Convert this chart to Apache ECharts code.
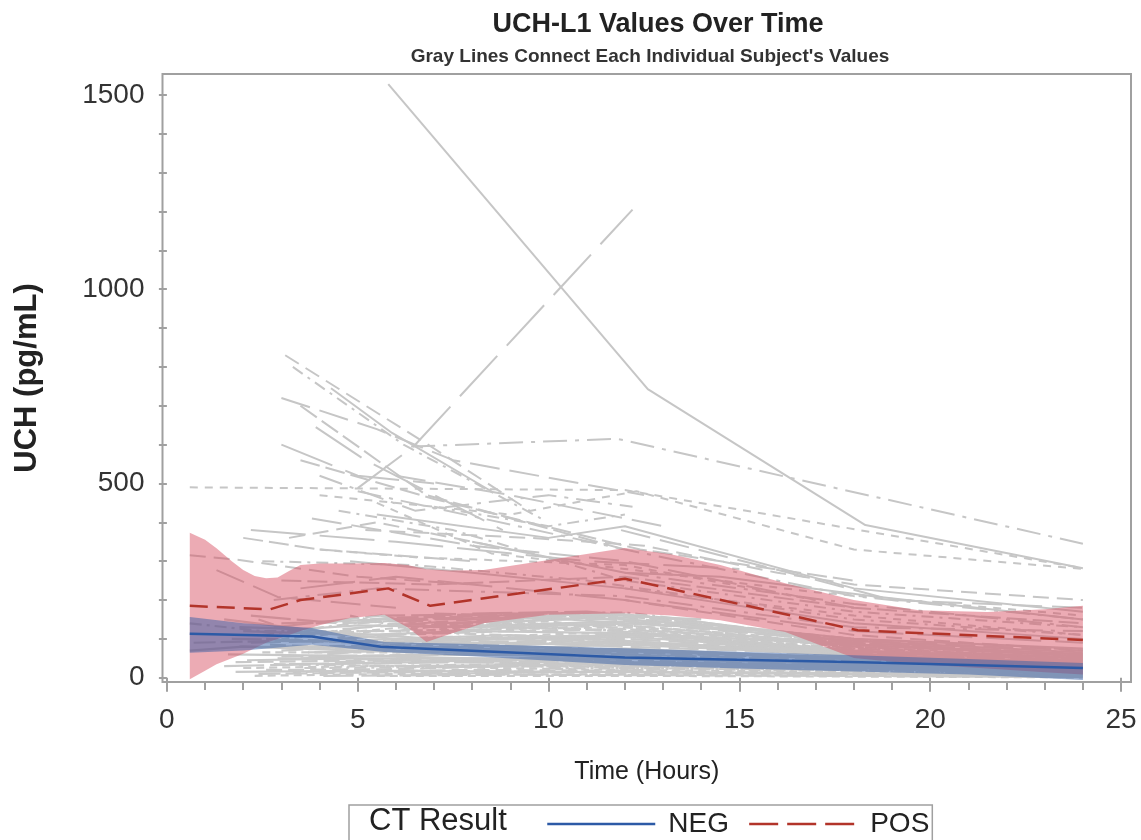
<!DOCTYPE html>
<html><head><meta charset="utf-8">
<script src="https://cdn.jsdelivr.net/npm/echarts@6/dist/echarts.min.js"></script>
<style>html,body{margin:0;padding:0;background:#fff}#c{width:1141px;height:840px}</style>
</head><body><div id="c"></div>
<script>
// ---- tick labels ----
const xTickLabels = [0, 5, 10, 15, 20, 25];
const xMinorTicks = [0,1,2,3,4,5,6,7,8,9,10,11,12,13,14,15,16,17,18,19,20,21,22,23,24,25];
const yTickLabels = [0, 500, 1000, 1500];
const yTicks = [0,100,200,300,400,500,600,700,800,900,1000,1100,1200,1300,1400,1500];

// ---- individual subjects: [time (h), UCH-L1 (pg/mL)] ----
const highSubjects = [
  [[5.8,1528],[12.6,743],[18.3,393],[24,282]],
  [[5.0,488],[6.45,594],[12.2,1205]],
  [[6.4,595],[11.8,615],[24,345]],
  [[0.6,490],[12,483],[24,282]],
  [[3.1,830],[7.0,590],[9.5,430]],
  [[3.0,720],[5.5,640],[7.5,560],[12.5,470]],
  [[3.3,800],[6.2,600],[9.8,410]],
  [[3.5,700],[6.8,470],[12,330]],
  [[4.3,745],[5.9,630],[8.5,480]],
  [[3.9,645],[5.2,560],[8.8,380]],
  [[5.0,480],[12,330],[18,210],[24,150]],
  [[4.0,470],[9,420],[12.3,480],[18,330],[24,280]],
  [[0.6,315],[1.9,303],[5,260],[8,240]],
  [[1.3,277],[2.9,208],[6,180]],
  [[4.5,430],[7.5,380],[12,250],[18,170],[24,130]],
  [[3.5,560],[7,460],[12.4,330],[18,250]],
  [[5.5,420],[10,360],[12,390],[18,230],[24,170]],
  [[2.2,380],[6,350],[11,300],[15,280]],
  [[4,520],[6.5,430],[10,470],[12.2,440]],
  [[5.5,450],[8.5,320],[12,280],[17,220],[24,160]],
  [[3.2,360],[5.5,400],[9,330]],
  [[3.8,410],[8,340],[12,300],[18,180]],
  [[2.5,300],[6.5,290],[11,250],[18,150],[24,110]],
  [[3,250],[7,240],[12,260],[18,180],[24,140]],
  [[4.8,300],[8,270],[12,230],[18,140],[24,100]],
  [[3.5,230],[6,260],[12,200],[18,120],[24,90]],
  [[2.8,200],[5.5,230],[12,210],[18,130],[24,120]],
  [[4,330],[6.5,310],[12,290],[17,200]],
  [[5.2,380],[9.5,360],[12.5,340],[16,270],[18,240],[24,200]],
  [[6,520],[9,470],[13,390]],
  [[7,440],[10,390],[12,420]],
  [[2,360],[4,330],[8,300]],
  [[8,350],[12,270],[14.5,260],[18.5,210],[24,150]],
  [[3,600],[5,520],[7,500]],
  [[12,270],[18,190],[24,130]],
  [[12,230],[18,160],[24,110]],
  [[12,200],[18,110],[24,70]],
  [[11.9,380],[16.5,265],[19,200],[24,180]]
];
const lowSubjects = [
  [[1.6,60],[5.8,55],[12,40],[18,30],[24,20]],
  [[1.8,40],[6,45],[12.2,30],[18.4,20],[24,12]],
  [[2.0,25],[5.5,30],[11.8,20],[18,15],[24,8]],
  [[2.2,90],[6.2,100],[12,80],[18,60],[24,40]],
  [[2.5,110],[5.7,150],[12,120],[18,75],[24,50]],
  [[3.0,70],[6,85],[12,95],[18,55],[24,35]],
  [[1.5,150],[4,120],[7,100],[12.5,110],[18,70]],
  [[2.8,130],[5.6,160],[11.5,165],[13.5,150],[18,90],[24,60]],
  [[3.5,50],[7,60],[12,55],[18,35],[24,18]],
  [[4,15],[8,20],[12,18],[18,10],[24,5]],
  [[2.3,5],[6,10],[12,8],[18,5],[24,2]],
  [[4.5,100],[9,130],[12.3,140],[17,100],[24,70]],
  [[5,140],[8.5,165],[12,160],[15,130],[20,80]],
  [[6,120],[10,168],[12,150],[18,100]],
  [[2,120],[5,110],[8,120],[12,115],[18,85],[24,55]],
  [[3.2,35],[6.5,40],[12,60],[18,45],[24,28]],
  [[1.9,80],[6.8,75],[11.6,70],[18.2,50],[24,30]],
  [[2.6,20],[6,22],[12.4,40],[17.6,25],[24,15]],
  [[3.8,90],[5.4,120],[12,130],[18,80],[24,45]],
  [[4.2,60],[7.5,90],[12,100],[18.6,65],[24,40]],
  [[5.3,30],[9,35],[12,25],[18,20],[24,10]],
  [[6.5,10],[11,15],[17,12],[24,6]],
  [[7,140],[10.5,150],[12,140],[16,120],[18,90]],
  [[8,165],[11,170],[13,155],[15.5,125]],
  [[5.6,160],[7,130],[12,145],[18,95],[24,65]],
  [[2.4,150],[3.6,110],[6,140],[12,120],[18,70]],
  [[3,100],[6.2,130],[10,145],[12,125],[18,80],[24,50]],
  [[1.7,100],[4.8,95],[12,85],[18,60],[24,35]],
  [[12,60],[18,40],[24,22]],
  [[12,90],[18,55],[24,35]],
  [[11.5,35],[18,25],[24,12]],
  [[12.6,110],[18,65],[24,45]],
  [[6,65],[12,75],[18,50],[24,30]],
  [[6,50],[12,45],[18,30],[24,18]],
  [[5.5,5],[12,5],[18,3],[24,1]],
  [[3,140],[5.8,150],[8,155],[12,150]],
  [[9,165],[12,168],[14,145]],
  [[4,80],[6.4,70],[12,65],[18,48],[24,25]],
  [[2.1,45],[5,50],[12,50],[18,35],[24,20]],
  [[1.5,30],[4,35],[8,40],[12,35],[18,25]],
  [[6.8,95],[12,105],[18,70],[24,50]],
  [[7.2,120],[12,135],[18,85],[24,55]],
  [[3.3,15],[7,18],[12.2,12],[18,8],[24,4]],
  [[4.6,125],[8,150],[12,155],[16,110],[19,75]],
  [[0.6,140],[2.5,120],[5.7,120],[12,100]],
  [[0.7,90],[3,95],[6,90],[12,70],[18,50]],
  [[0.6,70],[2,80],[5,70],[12,62]],
  [[13,120],[17,90],[24,60]],
  [[12,150],[15,130],[18,100],[24,75]],
  [[5.8,110],[9,120],[12,125],[18,90],[24,60]],
  [[2.5,65],[6,65],[12,70],[24,25]],
  [[8,100],[12,110],[18,60]],
  [[10,25],[18,18],[24,8]],
  [[3,55],[6,58],[9,60],[12,48]],
  [[1.8,15],[5,18],[10,16],[15,12],[24,3]],
  [[2.2,160],[4.5,140],[7,150],[12,160],[14,150]],
  [[3.4,120],[6,100],[9,110],[12,95],[18,60],[24,38]],
  [[2.7,85],[5.5,75],[9,80],[13,70],[19,45],[24,28]],
  [[4.8,160],[6.6,120],[9,140],[12,135],[16,105]],
  [[2.9,50],[7.5,45],[12.8,50],[18,38],[24,20]],
  [[3.6,25],[8,28],[12,30],[18,22],[24,14]],
  [[2.4,10],[6,14],[12,15],[18,12],[24,6]],
  [[5,75],[8,80],[11,90],[14,80],[18,58],[24,38]],
  [[6.2,95],[9.5,100],[12,90],[15,80],[20,50]],
  [[7.5,60],[10,65],[12,70],[17,55],[24,32]],
  [[8.5,140],[11,155],[13,140],[16,110],[18,80]],
  [[9.5,110],[12,118],[15,100],[18,70],[24,48]],
  [[4.4,40],[8,45],[12,42],[18,30],[24,16]],
  [[2.6,100],[5,90],[7,105],[12,105],[18,72]],
  [[3.9,140],[6,155],[10,160],[12,165]],
  [[1.9,130],[3.5,125],[5,135],[8,130],[12,140]],
  [[5.6,45],[10,40],[15,35],[20,25],[24,15]],
  [[6,30],[12,35],[18,28],[24,14]],
  [[3.1,80],[7,85],[11,90],[15,85],[19,60],[24,42]],
  [[12,130],[14,120],[16,100],[18,75],[24,52]],
  [[4.1,5],[9,8],[14,6],[20,4],[24,2]],
  [[2.8,35],[6,30],[12,28],[18,18],[24,9]],
  [[7,165],[9,160],[12,158],[14,140],[16,115]],
  [[3.7,65],[7,70],[12,85],[16,75],[21,45],[24,32]],
  [[5.2,90],[8,100],[12,112],[15,95],[18,68],[24,44]]
];

// ---- group means and confidence bands ----
const negMeanTime = [0.6, 3.8, 5.6, 12, 18.2, 24];
const negMean     = [113, 106, 80, 52, 40, 25];
const posMeanTime = [0.6, 2.7, 3.5, 5.8, 6.9, 12, 18.1, 24];
const posMean     = [185, 176, 200, 230, 185, 255, 122, 97];

const negBandTime  = [0.6, 2.0, 3.8, 4.8, 5.7, 8, 12, 15, 18, 21, 24];
const negBandUpper = [156, 140, 128, 108, 92, 87, 76, 67, 58, 48, 38];
const negBandLower = [64, 70, 85, 75, 66, 55, 33, 24, 16, 8, -6];

const posBandTime  = [0.6, 1.0, 1.3, 1.7, 2.0, 2.3, 2.6, 2.9, 3.2, 3.5, 4.0, 4.8, 5.7, 6.3, 6.8, 7.4, 8.3, 10, 12, 13.2, 14.5, 16.2, 18, 19.7, 21.5, 23, 24];
const posBandUpper = [373, 355, 333, 300, 277, 262, 256, 258, 275, 290, 294, 294, 295, 290, 279, 276, 277, 303, 334, 318, 290, 243, 200, 174, 169, 176, 185];
const posBandLower = [-4, 18, 35, 50, 62, 76, 90, 100, 110, 120, 135, 154, 162, 130, 92, 112, 140, 162, 166, 160, 148, 118, 51, 35, 24, 14, 8];

const FONT = 'Liberation Sans, Arial, sans-serif';
const highDashes = ['solid', [55,14], [24,8,4,8], [8,7], [16,8], [30,10], [12,6,3,6], [20,6]];
const lowDashes = ['solid', [16,6], [8,5], [30,8], [12,5,3,5], [22,5], 'solid', [40,6]];

const series = [];
lowSubjects.forEach((pts, i) => {
  series.push({
    type: 'line', data: pts, symbol: 'none', silent: true, z: 1,
    lineStyle: { color: '#c9c9c9', width: 2.2, type: lowDashes[i % lowDashes.length] },
    emphasis: { disabled: true }
  });
});
highSubjects.forEach((pts, i) => {
  series.push({
    type: 'line', data: pts, symbol: 'none', silent: true, z: 1,
    lineStyle: { color: '#c6c6c6', width: 2, type: highDashes[i % highDashes.length] },
    emphasis: { disabled: true }
  });
});

function bandSeries(times, lower, upper, color) {
  return {
    type: 'custom', silent: true, z: 2, clip: true,
    data: times.map((t, i) => [t, lower[i], upper[i]]),
    encode: { x: 0, y: [1, 2] },
    renderItem: function (params, api) {
      if (params.dataIndex !== 0) return null;
      const pts = [];
      for (let i = 0; i < times.length; i++) pts.push(api.coord([times[i], upper[i]]));
      for (let i = times.length - 1; i >= 0; i--) pts.push(api.coord([times[i], lower[i]]));
      return { type: 'polygon', shape: { points: pts }, style: { fill: color } };
    }
  };
}
series.push(bandSeries(posBandTime, posBandLower, posBandUpper, 'rgba(214,76,96,0.47)'));
series.push(bandSeries(negBandTime, negBandLower, negBandUpper, 'rgba(56,96,166,0.5)'));

series.push({
  name: 'NEG', type: 'line', symbol: 'none', z: 3,
  data: negMeanTime.map((t, i) => [t, negMean[i]]),
  lineStyle: { color: '#2c5aa6', width: 2.5 }, itemStyle: { color: '#2c5aa6' }
});
series.push({
  name: 'POS', type: 'line', symbol: 'none', z: 3,
  data: posMeanTime.map((t, i) => [t, posMean[i]]),
  lineStyle: { color: '#b2342a', width: 2.5, type: [18, 9] }, itemStyle: { color: '#b2342a' }
});

const chart = echarts.init(document.getElementById('c'), null, { renderer: 'canvas' });
chart.setOption({
  animation: false,
  backgroundColor: '#ffffff',
  title: [
    { text: 'UCH-L1 Values Over Time', left: 653, top: 6, textAlign: 'center',
      textStyle: { fontFamily: FONT, fontSize: 27, fontWeight: 'bold', color: '#222' } },
    { text: "Gray Lines Connect Each Individual Subject's Values", left: 645, top: 42, textAlign: 'center',
      textStyle: { fontFamily: FONT, fontSize: 19, fontWeight: 'bold', color: '#333' } }
  ],
  grid: { left: 162.5, right: 10, top: 74, bottom: 158, show: true, borderColor: '#a0a0a0', borderWidth: 2, backgroundColor: 'transparent' },
  xAxis: [
    { type: 'value', min: -0.115, max: 25.26, position: 'bottom',
      name: 'Time (Hours)', nameLocation: 'middle', nameGap: 78,
      nameTextStyle: { fontFamily: FONT, fontSize: 25, color: '#222' },
      axisLine: { show: false }, splitLine: { show: false },
      axisTick: { show: true, customValues: xTickLabels, length: 14, lineStyle: { color: '#a0a0a0', width: 2 } },
      axisLabel: { customValues: xTickLabels, fontFamily: FONT, fontSize: 28, color: '#333', margin: 24,
        formatter: v => String(v) } },
    { type: 'value', min: -0.115, max: 25.26, position: 'bottom',
      axisLine: { show: false }, splitLine: { show: false },
      axisTick: { show: true, customValues: xMinorTicks, length: 8, lineStyle: { color: '#a0a0a0', width: 2 } },
      axisLabel: { show: false } }
  ],
  yAxis: {
    type: 'value', min: -11, max: 1554,
    name: 'UCH (pg/mL)', nameLocation: 'middle', nameGap: 120,
    nameTextStyle: { fontFamily: FONT, fontSize: 31, fontWeight: 'bold', color: '#222' },
    axisLine: { show: false }, splitLine: { show: false },
    axisTick: { show: true, customValues: yTicks, length: 8, lineStyle: { color: '#a0a0a0', width: 2 } },
    axisLabel: { customValues: yTickLabels, fontFamily: FONT, fontSize: 28, color: '#333', margin: 18,
      formatter: v => String(v) }
  },
  legend: {
    data: [
      { name: 'NEG', lineStyle: { width: 2.5, type: 'solid' } },
      { name: 'POS', lineStyle: { width: 2.5, type: [29, 9] } }
    ],
    left: 349, top: 805, orient: 'horizontal',
    padding: [5, 3, 8, 197], borderColor: '#a0a0a0', borderWidth: 1.5,
    itemWidth: 108, itemHeight: 14, itemGap: 19, selectedMode: false,
    itemStyle: { opacity: 0 },
    textStyle: { fontFamily: FONT, fontSize: 28, color: '#222', padding: [0, 0, 0, 8] }
  },
  graphic: [
    { type: 'text', left: 369, top: 806, style: { text: 'CT Result', fontFamily: FONT, fontSize: 31, fill: '#222' } }
  ],
  series: series
});
</script></body></html>
